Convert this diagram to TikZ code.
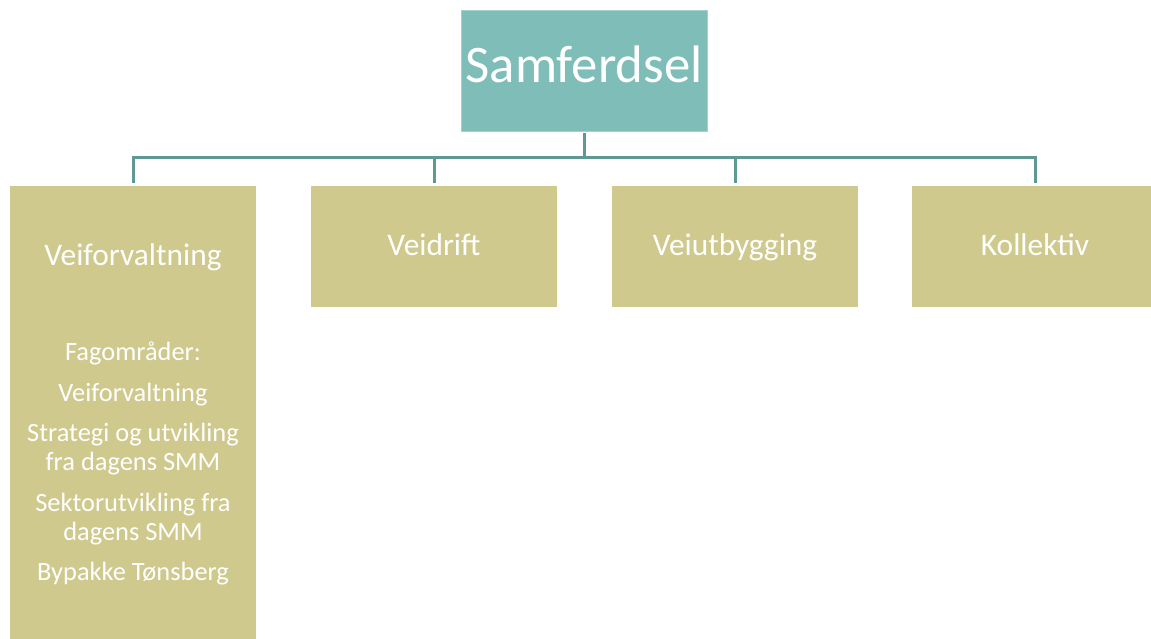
\documentclass[tikz,border=0pt]{standalone}
\usepackage{fontspec}
\setmainfont{Carlito}
\definecolor{tealfill}{HTML}{7FBDB8}
\definecolor{khaki}{HTML}{CFC98D}
\definecolor{linkline}{HTML}{5E9994}
\tikzset{
  headbox/.style={rectangle, fill=tealfill, draw=tealfill!70!white, line width=0.8bp,
    minimum width=246bp, minimum height=121bp, inner sep=0pt, text=white,
    font=\fontsize{53}{60}\selectfont, text height=36bp, text depth=11bp},
  unitbox/.style={rectangle, fill=khaki, draw=none, minimum width=246bp,
    minimum height=121bp, inner sep=0pt, text=white,
    font=\fontsize{31.5}{36}\selectfont, text height=22bp, text depth=3bp},
  tallbox/.style={rectangle, fill=khaki, draw=none, minimum width=246bp,
    minimum height=453bp, inner sep=0pt},
  boxtext/.style={text=white, inner sep=0pt, align=center},
  conn/.style={draw=linkline, line width=3bp}
}
\begin{document}
\begin{tikzpicture}[x=1bp, y=-1bp]
  \useasboundingbox (0,0) rectangle (1151,639);
  \fill[white] (0,0) rectangle (1151,639);

  % top unit
  \node[headbox] (top) at (584,70.5) {Samferdsel};

  % sub units
  \node[tallbox] (veif) at (133,412.5) {};
  \node[unitbox] (drift) at (434,246.5) {Veidrift};
  \node[unitbox] (utb) at (735,246.5) {Veiutbygging};
  \node[unitbox] (koll) at (1035,246.5) {Kollektiv};

  % text inside the tall box (list anchored at the baseline of its last line)
  \node[boxtext, anchor=base, font=\fontsize{31.5}{36}\selectfont] (veiftitle) at (133,266) {Veiforvaltning};
  \node[boxtext, anchor=base, font=\fontsize{26.5}{29}\selectfont] (veiflist) at (133,580)
    {Fagområder:\\[12bp]
     Veiforvaltning\\[11bp]
     Strategi og utvikling\\
     fra dagens SMM\\[12bp]
     Sektorutvikling fra\\
     dagens SMM\\[11bp]
     Bypakke Tønsberg};

  % connectors
  \coordinate (bus) at (584,158);
  \draw[conn] ([yshift=-2bp]top.south) -- (top.south |- bus);
  \draw[conn] (top.south |- bus) -| ([yshift=3bp]veif.north);
  \draw[conn] (top.south |- bus) -| ([yshift=3bp]drift.north);
  \draw[conn] (top.south |- bus) -| ([yshift=3bp]utb.north);
  \draw[conn] (top.south |- bus) -| ([yshift=3bp]koll.north);
\end{tikzpicture}
\end{document}
